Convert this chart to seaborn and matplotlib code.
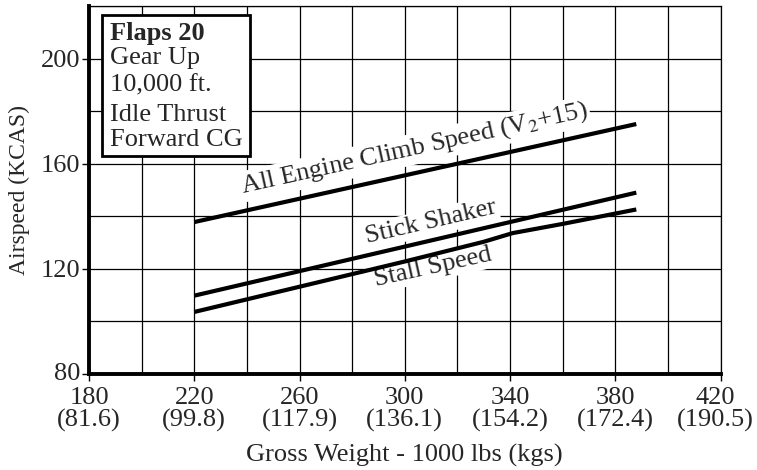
import matplotlib
matplotlib.use("Agg")
import matplotlib.pyplot as plt
import matplotlib.transforms as mtransforms
import seaborn as sns
import pandas as pd
from matplotlib.patches import Rectangle

# ---- data ----
climb_x = [220, 388]
climb_y = [137.8, 175.1]
shaker_x = [220, 388]
shaker_y = [109.8, 149.0]
stall_x = [220, 300, 330, 341, 360, 388]
stall_y = [103.6, 122.8, 130.3, 133.6, 137.1, 142.6]

x_ticks = [180, 220, 260, 300, 340, 380, 420]
x_tick_labels = ["180\n(81.6)", "220\n(99.8)", "260\n(117.9)", "300\n(136.1)",
                 "340\n(154.2)", "380\n(172.4)", "420\n(190.5)"]
y_ticks = [80, 120, 160, 200]
box_lines = ["Flaps 20", "Gear Up", "10,000 ft.", "Idle Thrust", "Forward CG"]

df = pd.concat([
    pd.DataFrame({"w": climb_x, "v": climb_y, "s": "climb"}),
    pd.DataFrame({"w": shaker_x, "v": shaker_y, "s": "shaker"}),
    pd.DataFrame({"w": stall_x, "v": stall_y, "s": "stall"}),
])

sns.set_style("white")
plt.rcParams['font.family'] = ['Liberation Serif', 'DejaVu Serif']
plt.rcParams['mathtext.fontset'] = 'stix'

FS = 19

fig = plt.figure(figsize=(7.57, 4.70), dpi=100)
ax = fig.add_axes([89/757, 1-374/470, (720.5-89)/757, (374-6)/470])

sns.lineplot(data=df, x="w", y="v", units="s", estimator=None, color="black",
             linewidth=3.0, ax=ax, zorder=4, solid_capstyle="butt", sort=False)

ax.set_xlim(180, 420)
ax.set_ylim(80, 220)

# grid every 20
for gx in range(200, 421, 20):
    ax.axvline(gx, color="black", linewidth=0.9, zorder=1)
for gy in range(100, 221, 20):
    ax.axhline(gy, color="black", linewidth=0.9, zorder=1)

ax.set_xticks(x_ticks)
ax.set_xticklabels(x_tick_labels, fontsize=FS, linespacing=1.0)
ax.set_yticks(y_ticks)
ax.set_yticklabels([str(t) for t in y_ticks], fontsize=FS)
ax.tick_params(axis="both", direction="out", length=5, width=1.0, color="black",
               bottom=True, left=True)
ax.tick_params(axis="x", pad=4)
ax.tick_params(axis="y", pad=1)

# small nudges of end labels (as in the reference)
xl = ax.get_xticklabels()
xl[-1].set_transform(xl[-1].get_transform() +
                     mtransforms.ScaledTranslation(-5/100, 0, fig.dpi_scale_trans))
yl = ax.get_yticklabels()
yl[0].set_transform(yl[0].get_transform() +
                    mtransforms.ScaledTranslation(0, 2/100, fig.dpi_scale_trans))

for side in ["left", "bottom"]:
    ax.spines[side].set_linewidth(2.8)
    ax.spines[side].set_color("black")
for side in ["top", "right"]:
    ax.spines[side].set_linewidth(0.9)
    ax.spines[side].set_color("black")

ax.set_xlabel("Gross Weight - 1000 lbs (kgs)", fontsize=FS, labelpad=9)
ax.set_ylabel("Airspeed (KCAS)", fontsize=17, labelpad=8)

# labels on lines
wb = dict(facecolor="white", edgecolor="none", pad=1.5)
ax.text(303.6, 165.6, "All Engine Climb Speed (V$_2$+15)", fontsize=FS,
        rotation=12.5, ha="center", va="center", rotation_mode="anchor",
        bbox=wb, zorder=3)
ax.text(310.0, 137.7, "Stick Shaker", fontsize=FS, rotation=13,
        ha="center", va="center", rotation_mode="anchor", bbox=wb, zorder=3)
ax.text(310.8, 120.5, "Stall Speed", fontsize=FS, rotation=12.5,
        ha="center", va="center", rotation_mode="anchor", bbox=wb, zorder=3)

# condition box
ax.add_patch(Rectangle((184.8, 162.9), 241.2-184.8, 216.4-162.9,
                       facecolor="white", edgecolor="black", linewidth=2.0,
                       zorder=5))
baselines = [207.2, 198.1, 187.4, 176.3, 166.7]
for i, (line, yb) in enumerate(zip(box_lines, baselines)):
    ax.text(188, yb, line, fontsize=FS, ha="left", va="baseline",
            fontweight="bold" if i == 0 else "normal", zorder=6)

fig.savefig("out.png", dpi=100)
